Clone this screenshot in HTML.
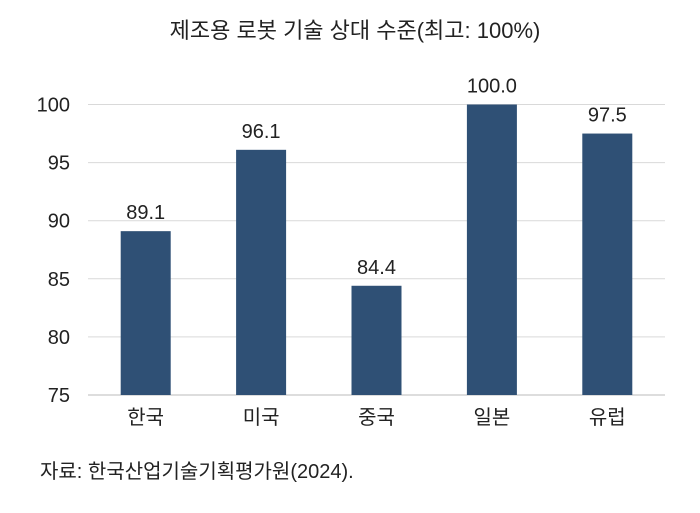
<!DOCTYPE html>
<html><head><meta charset="utf-8"><style>
body{margin:0;background:#fff;}
svg text{font-family:"Liberation Sans","Noto Sans CJK KR",sans-serif;fill:#222;}
</style></head><body>
<svg id="chart" width="700" height="508" viewBox="0 0 700 508">
<text x="355" y="38" text-anchor="middle" font-size="22">제조용 로봇 기술 상대 수준(최고: 100%)</text>
<g id="grid"></g><g id="bars"></g><g id="labels"></g>
<text x="40" y="478" font-size="20">자료: 한국산업기술기획평가원(2024).</text>
</svg>
<script>
const categories=["한국","미국","중국","일본","유럽"];
const values=[89.1,96.1,84.4,100.0,97.5];
const valueLabels=["89.1","96.1","84.4","100.0","97.5"];
const yTicks=[75,80,85,90,95,100];
const ns="http://www.w3.org/2000/svg";
const L=88,R=665,T0=395,yMin=75,yMax=100,yTop=104.5;
const y=v=>T0-(v-yMin)/(yMax-yMin)*(T0-yTop);
const band=(R-L)/categories.length;
const x=i=>L+band*(i+0.5);
function mk(tag,a,p){const e=document.createElementNS(ns,tag);for(const k in a)e.setAttribute(k,a[k]);p.appendChild(e);return e;}
const g=document.getElementById('grid'),b=document.getElementById('bars'),lb=document.getElementById('labels');
yTicks.forEach(t=>{
 const ln=mk('line',{x1:L,x2:R,y1:y(t),y2:y(t),stroke:t===yMin?'#bbb':'#d9d9d9','stroke-width':1},g);
 
 
 const tx=mk('text',{x:70,y:y(t)+7,'text-anchor':'end','font-size':20},g);
 tx.textContent=t;
 
 
});
categories.forEach((c,i)=>{
 const r=mk('rect',{x:x(i)-25,y:y(values[i]),width:50,height:T0-y(values[i]),fill:'#2f5075'},b);
 
 
 const v=mk('text',{x:x(i),y:y(values[i])-12,'text-anchor':'middle','font-size':20},lb);
 v.textContent=valueLabels[i];
 
 
 const cl=mk('text',{x:x(i),y:424,'text-anchor':'middle','font-size':20},lb);
 cl.textContent=c;
 
 
});
</script>
</body></html>
